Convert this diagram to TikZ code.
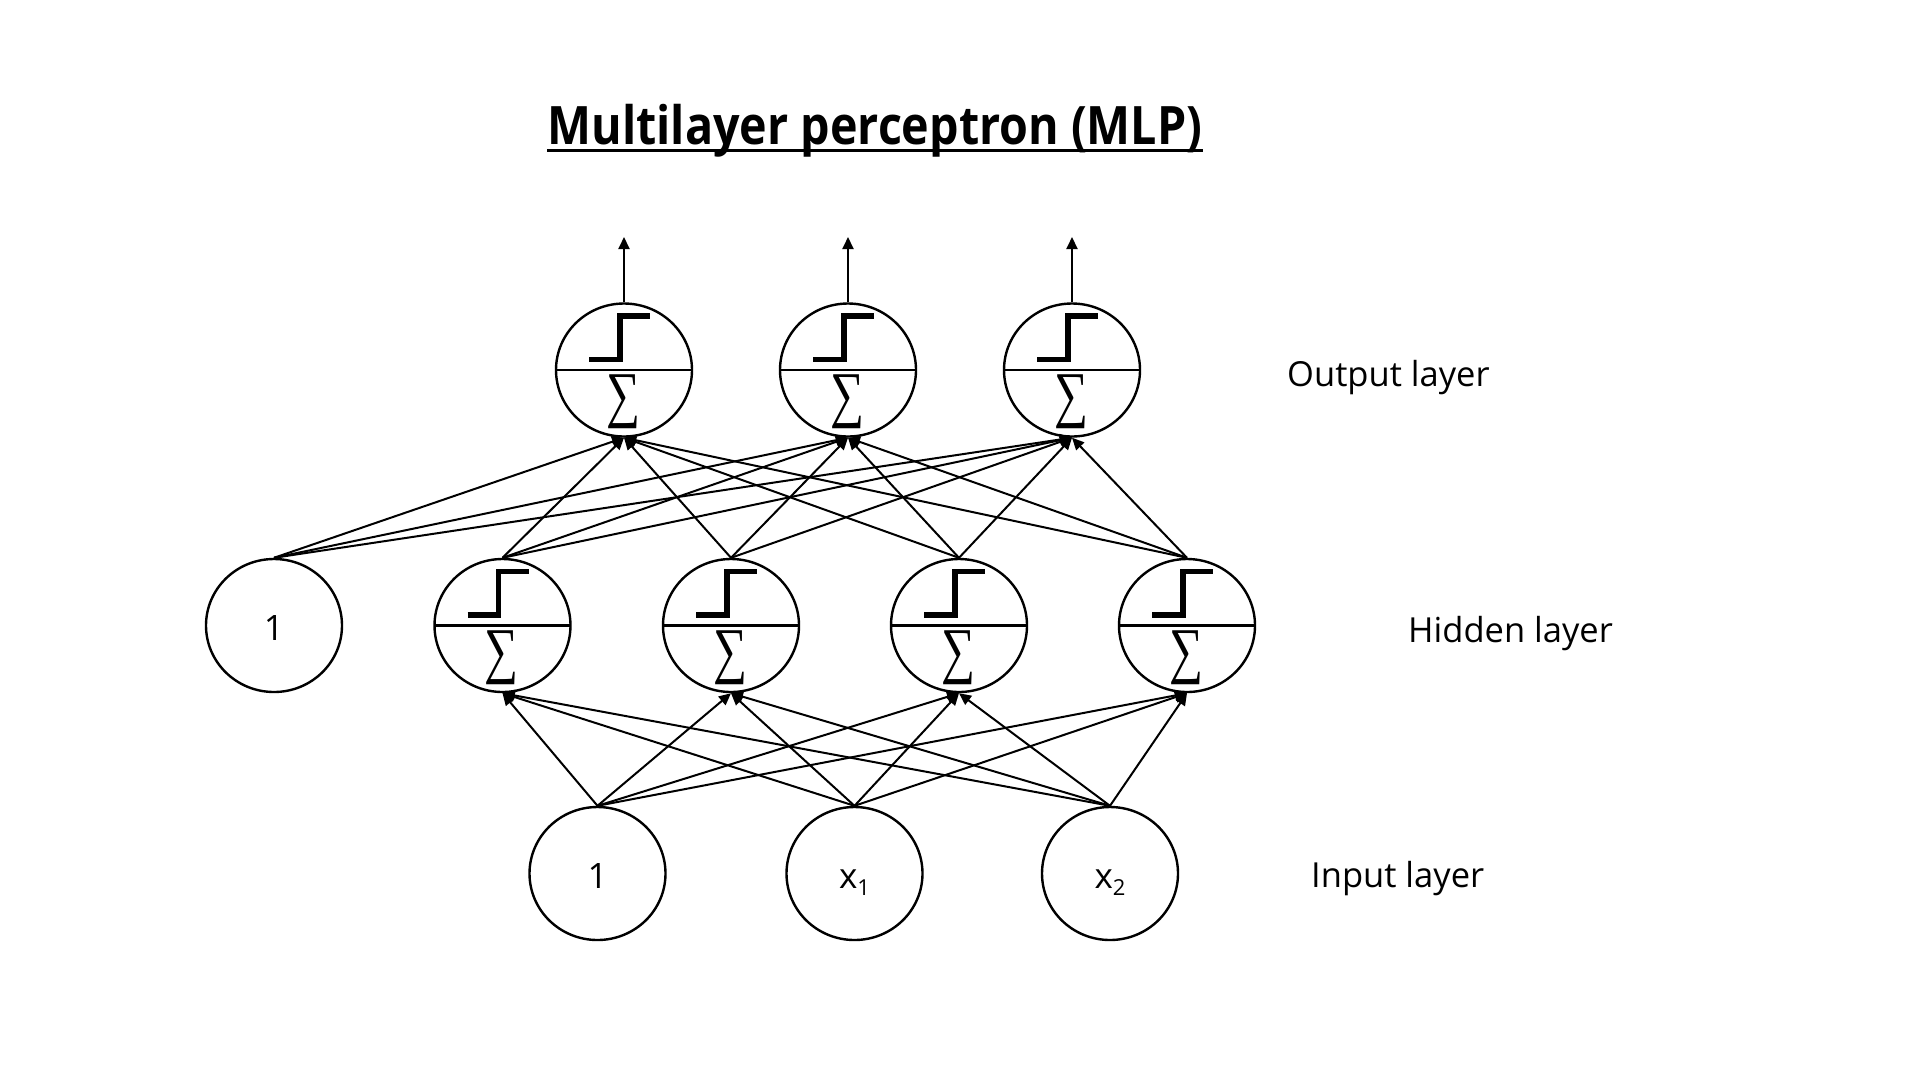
\documentclass[tikz,border=0pt]{standalone}
\usepackage{fontspec}
\usepackage{graphicx}
\setmainfont{Open Sans}
\newfontfamily\titlefont{Open Sans}[FakeStretch=0.88]
\newfontfamily\sumfont{Liberation Serif}
\usetikzlibrary{arrows.meta,shapes.geometric}

\newcommand\lowidx[1]{\raisebox{-7pt}{\fontsize{22pt}{22pt}\selectfont #1}}

\begin{document}
\begin{tikzpicture}[
  >={Triangle[length=12pt,width=11pt]},
  unit/.style={ellipse, draw, line width=2.4pt, minimum width=136pt,
    minimum height=133pt, inner sep=0pt},
  value/.style={unit, font=\fontsize{35pt}{35pt}\selectfont,
    text height=29pt, text depth=0pt},
  neuron/.style={unit, path picture={
      \draw[line width=2.2pt] ([xshift=-80pt]path picture bounding box.center)
        -- ([xshift=80pt]path picture bounding box.center);
      \draw[line width=5.2pt, line join=miter]
        ([shift={(-35pt,10.5pt)}]path picture bounding box.center)
        -- ++(31pt,0pt) -- ++(0pt,43.5pt) -- ++(30pt,0pt);
      \node[draw=none, rectangle, inner sep=0pt, minimum size=0pt]
        at ([shift={(-1pt,-32pt)}]path picture bounding box.center)
        {\resizebox*{34pt}{54pt}{\sumfont ∑}};
  }},
  link/.style={->, line width=2pt},
  layername/.style={anchor=base west, inner sep=0pt,
    font=\fontsize{34.5pt}{40pt}\selectfont}
]

\newcommand\OUTY{-370}
\newcommand\HIDY{-625.5}
\newcommand\INY{-873.5}

  \useasboundingbox (0pt,0pt) rectangle (1920pt,-1080pt);

  %% title
  \node[anchor=base, inner sep=0pt, font=\titlefont\bfseries\fontsize{53pt}{60pt}\selectfont]
  (title) at (875pt,-144.5pt) {Multilayer perceptron (MLP)};
  \draw[line width=3pt] ([yshift=-6pt]title.base west) -- ([yshift=-6pt]title.base east);

  %% output layer
  \node[neuron] (o1) at ( 624pt, \OUTY pt) {};
  \node[neuron] (o2) at ( 848pt, \OUTY pt) {};
  \node[neuron] (o3) at (1072pt, \OUTY pt) {};

  %% hidden layer
  \node[value]  (h0) at ( 274pt, \HIDY pt) {1}; %% bias
  \node[neuron] (h1) at ( 502.5pt, \HIDY pt) {};
  \node[neuron] (h2) at ( 731pt, \HIDY pt) {};
  \node[neuron] (h3) at ( 959pt, \HIDY pt) {};
  \node[neuron] (h4) at (1187pt, \HIDY pt) {};

  %% input layer
  \node[value] (i0) at ( 597.5pt, \INY pt) {1}; %% bias
  \node[value] (i1) at ( 854.5pt, \INY pt) {x\lowidx{1}};
  \node[value] (i2) at (1110pt, \INY pt) {x\lowidx{2}};

  %% input to hidden
  \draw[link] (i0.north) -- (h1.south);
  \draw[link] (i0.north) -- (h2.south);
  \draw[link] (i0.north) -- (h3.south);
  \draw[link] (i0.north) -- (h4.south);
  \draw[link] (i1.north) -- (h1.south);
  \draw[link] (i1.north) -- (h2.south);
  \draw[link] (i1.north) -- (h3.south);
  \draw[link] (i1.north) -- (h4.south);
  \draw[link] (i2.north) -- (h1.south);
  \draw[link] (i2.north) -- (h2.south);
  \draw[link] (i2.north) -- (h3.south);
  \draw[link] (i2.north) -- (h4.south);

  %% hidden to output
  \draw[link] (h0.north) -- (o1.south);
  \draw[link] (h0.north) -- (o2.south);
  \draw[link] (h0.north) -- (o3.south);
  \draw[link] (h1.north) -- (o1.south);
  \draw[link] (h1.north) -- (o2.south);
  \draw[link] (h1.north) -- (o3.south);
  \draw[link] (h2.north) -- (o1.south);
  \draw[link] (h2.north) -- (o2.south);
  \draw[link] (h2.north) -- (o3.south);
  \draw[link] (h3.north) -- (o1.south);
  \draw[link] (h3.north) -- (o2.south);
  \draw[link] (h3.north) -- (o3.south);
  \draw[link] (h4.north) -- (o1.south);
  \draw[link] (h4.north) -- (o2.south);
  \draw[link] (h4.north) -- (o3.south);

  %% outputs
  \coordinate (y1) at ( 624pt,-237pt);
  \coordinate (y2) at ( 848pt,-237pt);
  \coordinate (y3) at (1072pt,-237pt);
  \draw[link] (o1.north) -- (y1);
  \draw[link] (o2.north) -- (y2);
  \draw[link] (o3.north) -- (y3);

  %% layer names
  \node[layername] (outname) at (1287pt,-386pt) {Output layer};
  \node[layername] (hidname) at (1408pt,-642pt) {Hidden layer};
  \node[layername] (inname)  at (1311pt,-887pt) {Input layer};

\end{tikzpicture}
\end{document}
